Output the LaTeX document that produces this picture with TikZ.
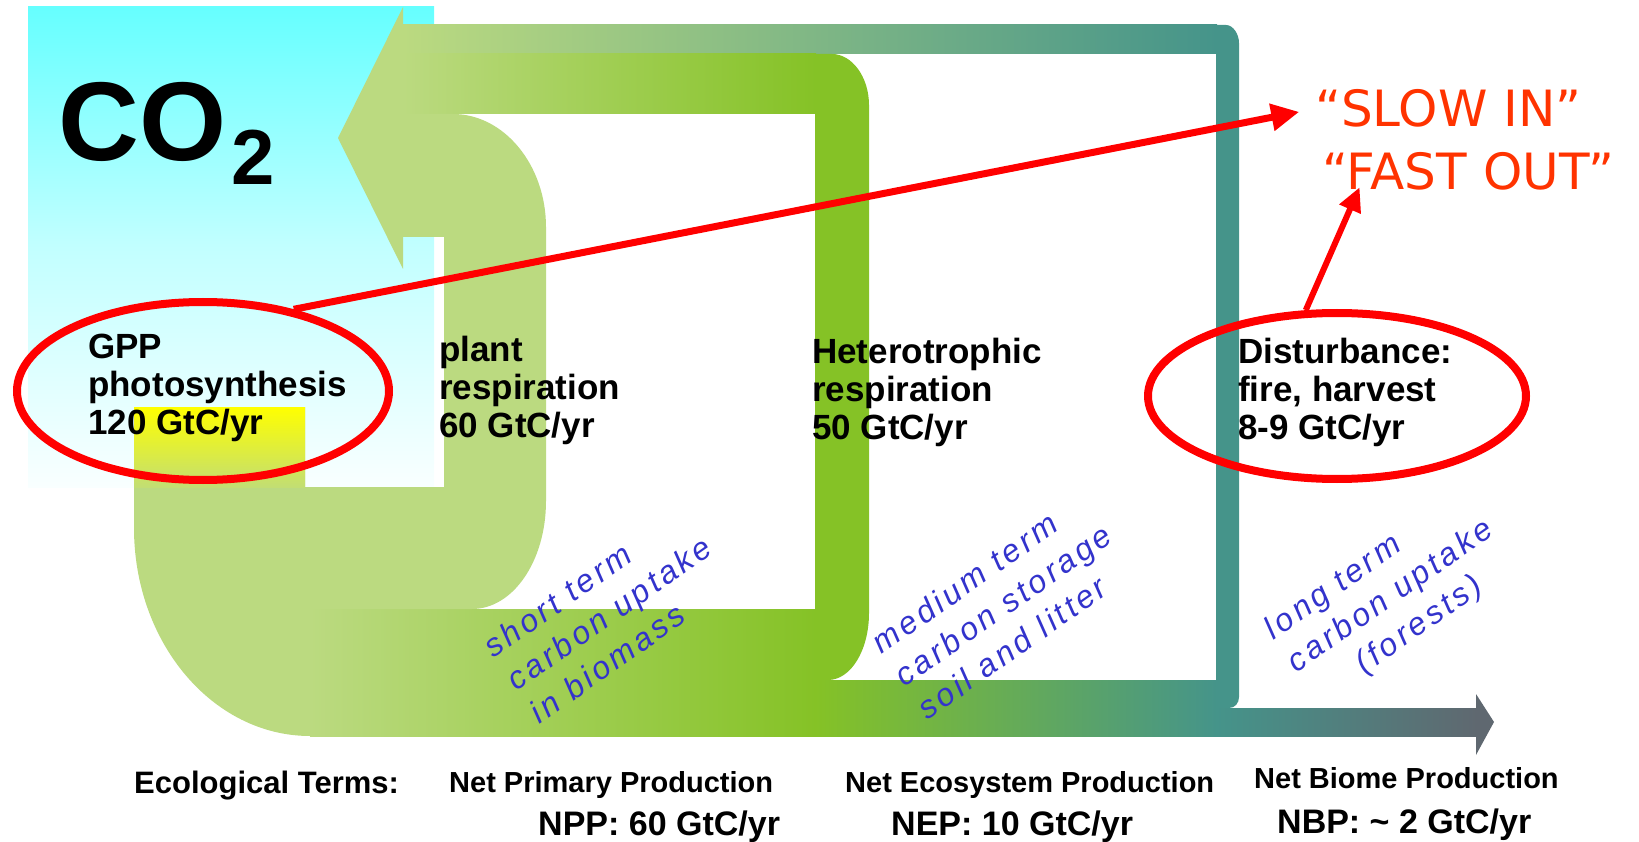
\documentclass[tikz,border=0pt]{standalone}
\usepackage{fontspec}
\setmainfont{Liberation Sans}
\newfontfamily\handfont{DejaVu Sans}
\usetikzlibrary{arrows.meta,shapes,positioning,calc}
\definecolor{skycyan}{RGB}{102,255,255}
\definecolor{paleleaf}{RGB}{187,218,128}
\definecolor{leaf}{RGB}{133,194,38}
\definecolor{forestteal}{RGB}{69,148,138}
\definecolor{slate}{RGB}{95,104,112}
\definecolor{inkblue}{RGB}{51,51,204}
\definecolor{alertred}{RGB}{255,0,0}
\definecolor{calloutred}{RGB}{255,51,0}
\begin{document}
\begin{tikzpicture}[x=1pt,y=-1pt,
  label/.style={anchor=base west,inner sep=0pt,align=left,font=\fontsize{35}{38}\selectfont\bfseries},
  term/.style={anchor=base west,inner sep=0pt,font=\fontsize{29}{32}\selectfont\bfseries},
  value/.style={anchor=base west,inner sep=0pt,font=\fontsize{34}{36}\selectfont\bfseries},
  note/.style={rotate=35,align=left,inner sep=0pt,text=inkblue,
    font=\fontsize{32}{40}\selectfont\itshape\addfontfeatures{LetterSpace=11}},
  ring/.style={ellipse,draw=alertred,line width=8pt,inner sep=0pt},
  callout/.style={anchor=base west,inner sep=0pt,text=calloutred,font=\fontsize{50}{56}\selectfont\handfont},
  pointer/.style={draw=alertred,line width=7pt,-{Triangle[length=28pt,width=26pt]}}]
  \useasboundingbox (0,0) rectangle (1639,842);
  \shade[top color=skycyan,bottom color=skycyan!4,middle color=skycyan!40] (28,7) rectangle (434,487);
  \shade[left color=paleleaf,right color=forestteal] (403,25) rectangle (1217,54);
  \fill[forestteal] (1216,25) -- (1226,25) .. controls (1233,25) and (1239,34) .. (1239,43) -- (1239,697)
    .. controls (1239,703) and (1235,708) .. (1229,708) -- (1216,708) -- cycle;
  \shade[left color=paleleaf,right color=leaf] (403,54) rectangle (816,114);
  \fill[leaf] (815,54) -- (832,54) .. controls (852,54) and (869,77) .. (869,105) -- (869,613)
    .. controls (869,650) and (851,680) .. (828,680) -- (815,680) -- cycle;
  \shade[left color=paleleaf,right color=leaf] (310,609) rectangle (816,736);
  \shade[left color=leaf,right color=forestteal] (815,680) rectangle (1217,736);
  \shade[left color=forestteal,right color=slate] (1216,708) rectangle (1477,736);
  \fill[slate] (1476,694) -- (1494,722) -- (1476,755) -- cycle;
  \fill[paleleaf] (134,407) -- (305,407) -- (305,487) -- (444,487) -- (444,237) -- (403,237) -- (403,114)
    -- (453,114) .. controls (504,114) and (546,165) .. (546,227) -- (546,501)
    .. controls (546,561) and (513,609) .. (472,609) -- (310,609) -- (310,736)
    .. controls (213,736) and (134,643) .. (134,528) -- cycle;
  \fill[paleleaf] (338,138) -- (403,7) -- (403,269) -- cycle;
  \shade[top color=yellow,bottom color=paleleaf!90!yellow] (134,407) rectangle (305,487);

  \node[anchor=base west,inner sep=0pt,font=\bfseries] (co2) at (58,161)
    {\fontsize{112}{112}\selectfont CO\kern5pt\raisebox{-24pt}{\fontsize{78}{78}\selectfont 2}};
  \node[label] (gpp) at (88,434) {GPP\\photosynthesis\\120 GtC/yr};
  \node[label] (plantresp) at (439,437) {plant\\respiration\\60 GtC/yr};
  \node[label] (hetresp) at (812,439) {Heterotrophic\\respiration\\50 GtC/yr};
  \node[label] (disturb) at (1238,439) {Disturbance:\\fire, harvest\\8-9 GtC/yr};

  \node[note] (shortterm) at (609,613) {short term\\carbon uptake\\in biomass};
  \node[note] (mediumterm) at (1003,605) {medium term\\carbon storage\\soil and litter};
  \node[note] (longterm) at (1391,597) {long term\\carbon uptake\\\hspace*{55pt}(forests)};

  \node[term,font=\fontsize{31}{32}\selectfont\bfseries] (ecoterms) at (134,793) {Ecological Terms:};
  \node[term] (nppname) at (449,792) {Net Primary Production};
  \node[term] (nepname) at (845,792) {Net Ecosystem Production};
  \node[term] (nbpname) at (1254,788) {Net Biome Production};
  \node[value] (nppval) at (538,835) {NPP: 60 GtC/yr};
  \node[value] (nepval) at (891,835) {NEP: 10 GtC/yr};
  \node[value] (nbpval) at (1277,833) {NBP: \textasciitilde\ 2 GtC/yr};

  \node[ring,minimum width=372pt,minimum height=178pt] (gppring) at (203,391) {};
  \node[ring,minimum width=378pt,minimum height=166pt] (distring) at (1337,396) {};
  \node[callout] (slowin) at (1315,127) {“SLOW IN”};
  \node[callout] (fastout) at (1322,190) {“FAST OUT”};
  \draw[pointer,shorten >=16pt] (gppring.42) -- (slowin.west);
  \draw[pointer,line width=6pt,-{Triangle[length=24pt,width=22pt]},shorten >=-4pt] (distring.110) -- ([xshift=36pt]fastout.south west);
\end{tikzpicture}
\end{document}
